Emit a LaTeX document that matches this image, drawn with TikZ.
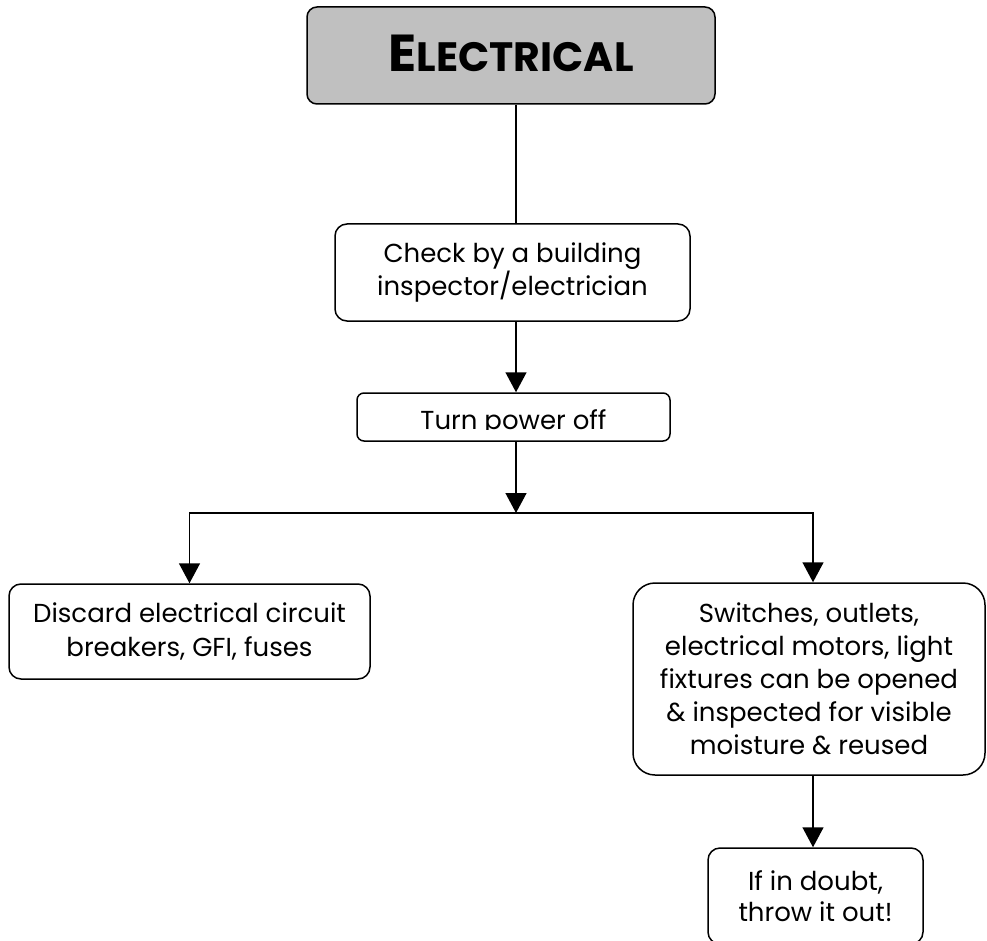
\documentclass[tikz,border=0pt]{standalone}
\usepackage{fontspec}
\setmainfont{Poppins}
\usetikzlibrary{arrows.meta,calc}
\definecolor{titlegray}{HTML}{C0C0C0}
\tikzset{
  box/.style={draw=black, line width=1.5pt, rounded corners=#1, inner sep=0pt, align=center},
  box/.default=12pt,
  body/.style={font=\fontsize{26}{32}\selectfont},
  link/.style={draw=black, line width=1.5pt},
  arrow/.style={link, -{Triangle[width=21pt,length=20pt]}}
}
\begin{document}
\begin{tikzpicture}[x=1pt, y=-1pt]
  \useasboundingbox (0,0) rectangle (987,941);

  % heading
  \node[box=10pt, fill=titlegray, minimum width=408pt, minimum height=97pt] (title) at (511,55.5) {};
  \node[font=\bfseries, anchor=base, inner sep=0pt] (titletext) at (511,72)
        {\fontsize{52}{52}\selectfont E\fontsize{41}{41}\selectfont LECTRICAL};

  % steps
  \node[box, minimum width=355pt, minimum height=97pt,
        font=\fontsize{26}{30}\selectfont] (check) at (512.5,272.5)
        {Check by a building\\inspector/electrician};

  \node[box=7pt, minimum width=313pt, minimum height=48pt] (turn) at (513.5,417) {};
  \begin{scope}
    \clip (357,393) rectangle (670,429.5);
    \node[body, inner sep=0pt, anchor=base] (turntext) at (513.5,429) {Turn power off};
  \end{scope}

  \node[box, minimum width=361pt, minimum height=95pt,
        font=\fontsize{26}{34}\selectfont] (discard) at (189.5,631.5)
        {Discard electrical circuit\\breakers, GFI, fuses};

  \node[box=22pt, minimum width=352pt, minimum height=192pt,
        font=\fontsize{26}{33}\selectfont] (switches) at (809,679)
        {Switches, outlets,\\electrical motors, light\\fixtures can be opened\\
         \& inspected for visible\\moisture \& reused};

  \node[box, minimum width=215pt, minimum height=96pt,
        font=\fontsize{26}{31}\selectfont] (doubt) at (815.5,896)
        {If in doubt,\\throw it out!};

  % connectors
  \coordinate (spine) at (516,0);
  \coordinate (rightx) at (813,0);
  \coordinate (split) at (516,513);

  \draw[link]  (title.south -| spine) -- (check.north -| spine);
  \draw[arrow] (check.south -| spine) -- (turn.north -| spine);
  \draw[arrow] (turn.south -| spine) -- (split);
  \draw[arrow] (split) -| (discard.north);
  \draw[arrow] (split) -| (switches.north -| rightx);
  \draw[arrow] (switches.south -| rightx) -- (doubt.north -| rightx);
\end{tikzpicture}
\end{document}
